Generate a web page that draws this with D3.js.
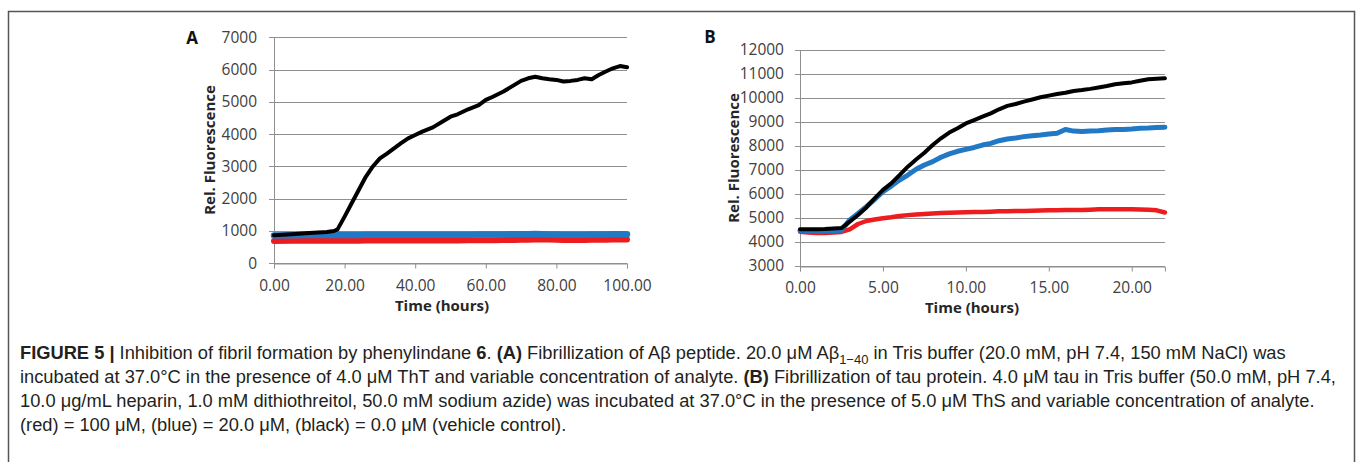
<!DOCTYPE html>
<html>
<head>
<meta charset="utf-8">
<script src="https://cdn.jsdelivr.net/npm/d3@7"></script>
<style>
  html, body { margin: 0; padding: 0; background: #fff; }
  svg { display: block; }
</style>
</head>
<body>
<svg id="chart" width="1357" height="462"></svg>
<script>
// ---------- Panel A data (Aβ, 0–100 h) ----------
const timeA  = [0, 5, 10, 15, 17, 18, 20, 22, 24, 26, 28, 30, 32, 34, 36, 38, 40, 42, 45, 48, 50, 52, 55, 58, 60, 62, 65, 68, 70, 72, 74, 76, 78, 80, 82, 84, 86, 88, 90, 92, 94, 96, 98, 100];
const blackA = [870, 900, 940, 970, 1000, 1050, 1445, 1860, 2270, 2680, 3000, 3250, 3400, 3560, 3720, 3870, 3975, 4080, 4210, 4410, 4540, 4615, 4770, 4900, 5060, 5160, 5320, 5520, 5650, 5730, 5780, 5730, 5700, 5680, 5630, 5650, 5680, 5730, 5700, 5830, 5940, 6040, 6110, 6070];
const blueA  = [860, 870, 875, 880, 880, 880, 880, 880, 880, 882, 882, 884, 884, 885, 885, 885, 886, 886, 887, 887, 888, 888, 888, 890, 890, 892, 895, 898, 900, 902, 905, 900, 895, 890, 888, 886, 886, 888, 890, 892, 895, 898, 900, 900];
const redA   = [690, 695, 700, 700, 700, 700, 702, 702, 702, 704, 704, 705, 705, 705, 706, 706, 706, 708, 708, 708, 710, 710, 712, 712, 714, 716, 718, 722, 726, 730, 735, 738, 736, 730, 725, 722, 722, 725, 728, 730, 733, 736, 740, 740];
const yTicksA = [0, 1000, 2000, 3000, 4000, 5000, 6000, 7000];
const xTicksA = [0, 20, 40, 60, 80, 100];

// ---------- Panel B data (tau, 0–22 h) ----------
const timeB  = [0, 0.5, 1, 1.5, 2, 2.5, 3, 3.5, 4, 4.5, 5, 5.5, 6, 6.5, 7, 7.5, 8, 8.5, 9, 9.5, 10, 10.5, 11, 11.5, 12, 12.5, 13, 13.5, 14, 14.5, 15, 15.5, 16, 16.5, 17, 17.5, 18, 18.5, 19, 19.5, 20, 20.5, 21, 21.5, 22];
const blackB = [4530, 4530, 4530, 4540, 4560, 4580, 4850, 5125, 5440, 5820, 6170, 6440, 6790, 7140, 7440, 7720, 8040, 8320, 8560, 8740, 8940, 9080, 9220, 9360, 9530, 9670, 9750, 9850, 9940, 10030, 10100, 10170, 10220, 10290, 10330, 10380, 10440, 10500, 10570, 10610, 10650, 10720, 10780, 10800, 10820];
const blueB  = [4480, 4460, 4450, 4455, 4470, 4490, 4920, 5190, 5470, 5780, 6100, 6330, 6580, 6790, 7030, 7210, 7350, 7530, 7670, 7780, 7860, 7940, 8040, 8110, 8220, 8290, 8330, 8390, 8430, 8460, 8500, 8530, 8690, 8620, 8600, 8620, 8640, 8670, 8690, 8690, 8710, 8740, 8750, 8770, 8780];
const redB   = [4430, 4400, 4380, 4380, 4400, 4420, 4530, 4750, 4875, 4940, 4990, 5030, 5080, 5120, 5150, 5170, 5190, 5205, 5220, 5230, 5240, 5245, 5250, 5265, 5280, 5285, 5290, 5295, 5300, 5310, 5320, 5325, 5330, 5330, 5330, 5345, 5360, 5360, 5360, 5360, 5360, 5350, 5340, 5320, 5230];
const yTicksB = [3000, 4000, 5000, 6000, 7000, 8000, 9000, 10000, 11000, 12000];
const xTicksB = [0, 5, 10, 15, 20];

// ---------- Caption ----------
const captionLines = [
  [["FIGURE 5 | ", true], ["Inhibition of fibril formation by phenylindane ", false], ["6", true], [". ", false], ["(A)", true], [" Fibrillization of Aβ peptide. 20.0 μM Aβ", false], ["1−40", false, "sub"], [" in Tris buffer (20.0 mM, pH 7.4, 150 mM NaCl) was", false, "unsub"]],
  [["incubated at 37.0°C in the presence of 4.0 μM ThT and variable concentration of analyte. ", false], ["(B)", true], [" Fibrillization of tau protein. 4.0 μM tau in Tris buffer (50.0 mM, pH 7.4,", false]],
  [["10.0 μg/mL heparin, 1.0 mM dithiothreitol, 50.0 mM sodium azide) was incubated at 37.0°C in the presence of 5.0 μM ThS and variable concentration of analyte.", false]],
  [["(red) = 100 μM, (blue) = 20.0 μM, (black) = 0.0 μM (vehicle control).", false]]
];

const COLORS = { black: "#000000", blue: "#2179c6", red: "#ec1c1f" };
const GRID = "#8f8f8f";
const TICKTXT = "#404040";
const FONT = "'Open Sans', 'DejaVu Sans', sans-serif";

const svg = d3.select("#chart");

// outer frame (open at bottom)
svg.append("path")
  .attr("d", "M8.5,462 V11.5 H1354.5 V462")
  .attr("fill", "none").attr("stroke", "#555").attr("stroke-width", 1.5);

function panel(cfg) {
  const g = svg.append("g");
  const x = d3.scaleLinear().domain(cfg.xDomain).range(cfg.xRange);
  const y = d3.scaleLinear().domain(cfg.yDomain).range(cfg.yRange);

  // gridlines
  g.append("g").selectAll("line").data(cfg.yTicks).join("line")
    .attr("x1", cfg.xRange[0] - 5).attr("x2", cfg.xRange[1])
    .attr("y1", d => Math.round(y(d)) + 0.5).attr("y2", d => Math.round(y(d)) + 0.5)
    .attr("stroke", GRID).attr("stroke-width", 1);

  // y axis line
  g.append("line")
    .attr("x1", Math.round(cfg.xRange[0]) + 0.5).attr("x2", Math.round(cfg.xRange[0]) + 0.5)
    .attr("y1", cfg.yRange[1]).attr("y2", cfg.yRange[0])
    .attr("stroke", GRID).attr("stroke-width", 1);

  // x axis
  const xAxis = d3.axisBottom(x).tickValues(cfg.xTicks)
    .tickFormat(d3.format(".2f")).tickSize(5).tickPadding(cfg.xPad);
  const xg = g.append("g")
    .attr("transform", `translate(0,${Math.round(cfg.yRange[0]) + 0.5})`)
    .call(xAxis);
  xg.select(".domain").attr("stroke", GRID);
  xg.selectAll(".tick line").attr("stroke", GRID);
  xg.selectAll(".tick text").attr("fill", TICKTXT)
    .style("font-family", FONT).style("font-size", "15.5px");

  // y axis labels
  const yAxis = d3.axisLeft(y).tickValues(cfg.yTicks)
    .tickFormat(d3.format("d")).tickSize(0).tickPadding(cfg.yPad);
  const yg = g.append("g")
    .attr("transform", `translate(${cfg.xRange[0]},0)`)
    .call(yAxis);
  yg.select(".domain").remove();
  yg.selectAll(".tick text").attr("fill", TICKTXT)
    .style("font-family", FONT).style("font-size", "15.5px");

  // series
  const line = d3.line().x(d => x(d[0])).y(d => y(d[1])).curve(d3.curveLinear);
  cfg.series.forEach(s => {
    g.append("path")
      .datum(cfg.time.map((t, i) => [t, s.values[i]]))
      .attr("fill", "none").attr("stroke", s.color)
      .attr("stroke-width", s.width)
      .attr("stroke-linejoin", "round").attr("stroke-linecap", "round")
      .attr("d", line);
  });

  // axis titles
  g.append("text")
    .attr("x", cfg.xTitle[0]).attr("y", cfg.xTitle[1])
    .attr("text-anchor", "middle").attr("dominant-baseline", "central")
    .style("font-family", FONT).style("font-weight", "bold").style("font-size", "15px")
    .attr("fill", "#262626").text("Time (hours)");
  g.append("text")
    .attr("transform", `translate(${cfg.yTitle[0]},${cfg.yTitle[1]}) rotate(-90)`)
    .attr("text-anchor", "middle").attr("dominant-baseline", "central")
    .style("font-family", FONT).style("font-weight", "bold").style("font-size", "15px")
    .attr("fill", "#262626").text("Rel. Fluorescence");

  // panel letter
  g.append("text")
    .attr("x", cfg.letterPos[0]).attr("y", cfg.letterPos[1])
    .attr("text-anchor", "middle").attr("dominant-baseline", "central")
    .style("font-family", FONT).style("font-weight", "bold").style("font-size", "17px")
    .attr("fill", "#111").text(cfg.letter);
}

panel({
  letter: "A", letterPos: [192, 37],
  xDomain: [0, 100], xRange: [274, 627],
  yDomain: [0, 7000], yRange: [263.3, 37.3],
  xTicks: xTicksA, yTicks: yTicksA, yPad: 17, xPad: 11,
  xTitle: [442, 305], yTitle: [209, 150],
  time: timeA,
  series: [
    { values: redA, color: COLORS.red, width: 6 },
    { values: blueA, color: COLORS.blue, width: 6.5 },
    { values: blackA, color: COLORS.black, width: 4 }
  ]
});

panel({
  letter: "B", letterPos: [710, 36],
  xDomain: [0, 22], xRange: [800, 1164.9],
  yDomain: [3000, 12000], yRange: [266, 50],
  xTicks: xTicksB, yTicks: yTicksB, yPad: 16, xPad: 10,
  xTitle: [972, 307], yTitle: [733, 158],
  time: timeB,
  series: [
    { values: redB, color: COLORS.red, width: 4.5 },
    { values: blueB, color: COLORS.blue, width: 5 },
    { values: blackB, color: COLORS.black, width: 4 }
  ]
});

// caption
const cap = svg.append("g").style("font-family", "'Liberation Sans', Arial, sans-serif")
  .style("font-size", "18.3px").attr("fill", "#231f20");
const baselines = [358.5, 382.5, 406.5, 431];
captionLines.forEach((parts, i) => {
  const t = cap.append("text").attr("x", 20).attr("y", baselines[i]);
  parts.forEach(p => {
    const ts = t.append("tspan").text(p[0]);
    if (p[1]) ts.style("font-weight", "bold");
    if (p[2] === "sub") ts.attr("dy", 5).style("font-size", "13px");
    if (p[2] === "unsub") ts.attr("dy", -5);
  });
});
</script>
</body>
</html>
